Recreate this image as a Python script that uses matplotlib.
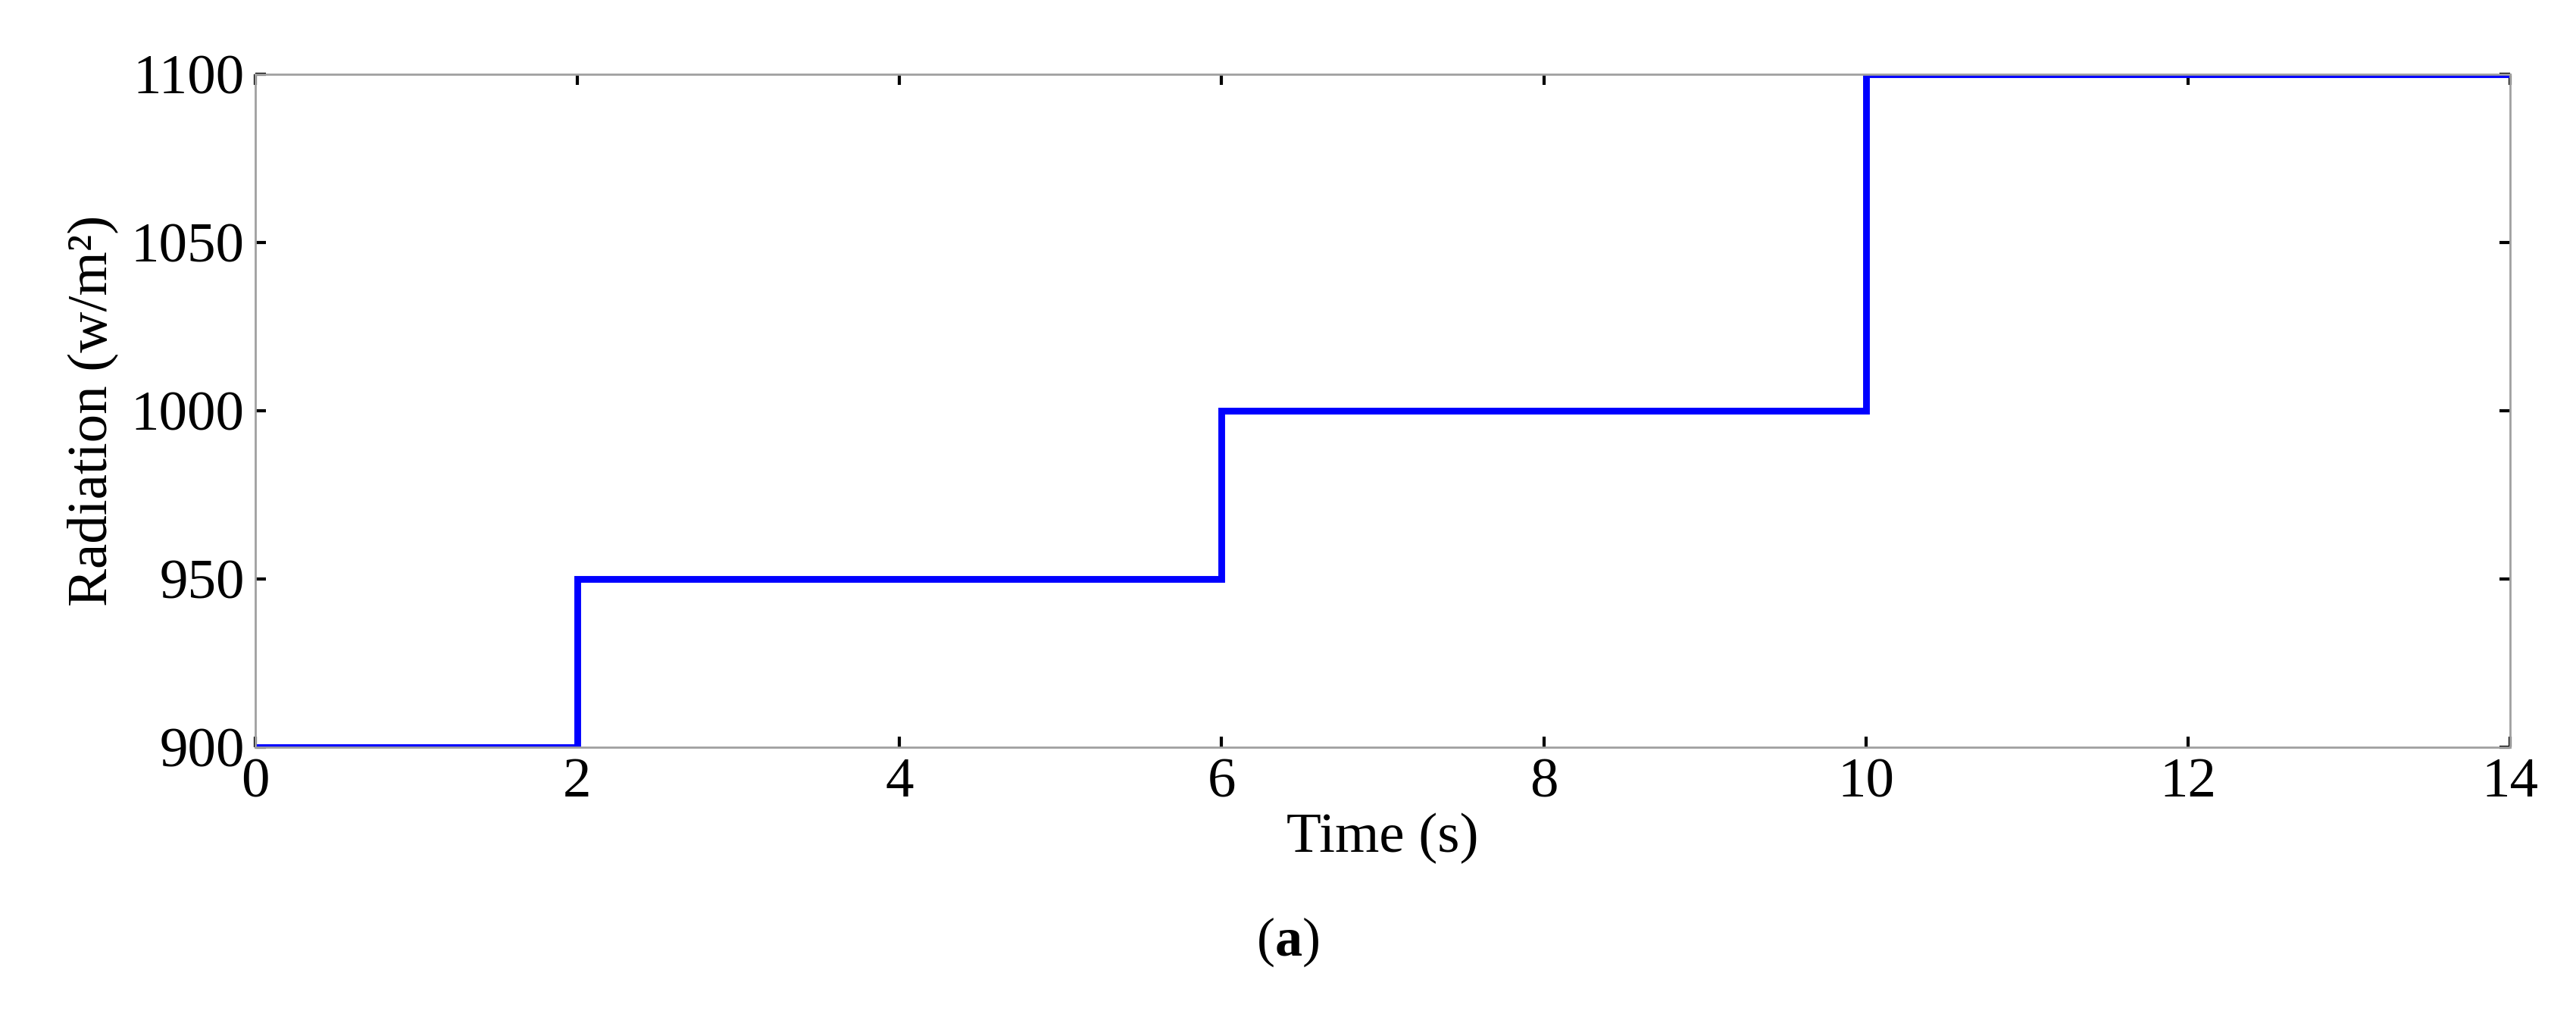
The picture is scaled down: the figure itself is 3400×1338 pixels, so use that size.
import matplotlib
matplotlib.use("Agg")
import matplotlib.pyplot as plt

time_s = [0, 2, 2, 6, 6, 10, 10, 14]
radiation = [900, 900, 950, 950, 1000, 1000, 1100, 1100]
xticks = [0, 2, 4, 6, 8, 10, 12, 14]
yticks = [900, 950, 1000, 1050, 1100]

plt.rcParams['font.family'] = ['Liberation Serif', 'DejaVu Serif']
plt.rcParams['mathtext.fontset'] = 'custom'
plt.rcParams['mathtext.bf'] = 'Liberation Serif:bold'
plt.rcParams['mathtext.rm'] = 'Liberation Serif'
fig = plt.figure(figsize=(17, 6.69), dpi=200)
ax = fig.add_axes([0.099, 0.263, 0.8755, 0.664])
ax.plot(time_s, radiation, color='#0000ff', lw=3.2, solid_joinstyle='miter')
ax.set_xlim(0, 14)
ax.set_ylim(900, 1100)
ax.set_xticks(xticks)
ax.set_yticks(yticks)
ax.tick_params(direction='in', top=True, right=True, labelsize=27, length=5, width=1.5, pad=5)
for s in ax.spines.values():
    s.set_color('#a0a0a0'); s.set_linewidth(1)
ax.set_xlabel('Time (s)', fontsize=27, labelpad=2)
ax.set_ylabel('Radiation (w/m²)', fontsize=27, labelpad=6)
fig.text(0.5, 0.045, r'($\mathbf{a}$)', ha='center', va='bottom', fontsize=26)
fig.savefig('out.png')
